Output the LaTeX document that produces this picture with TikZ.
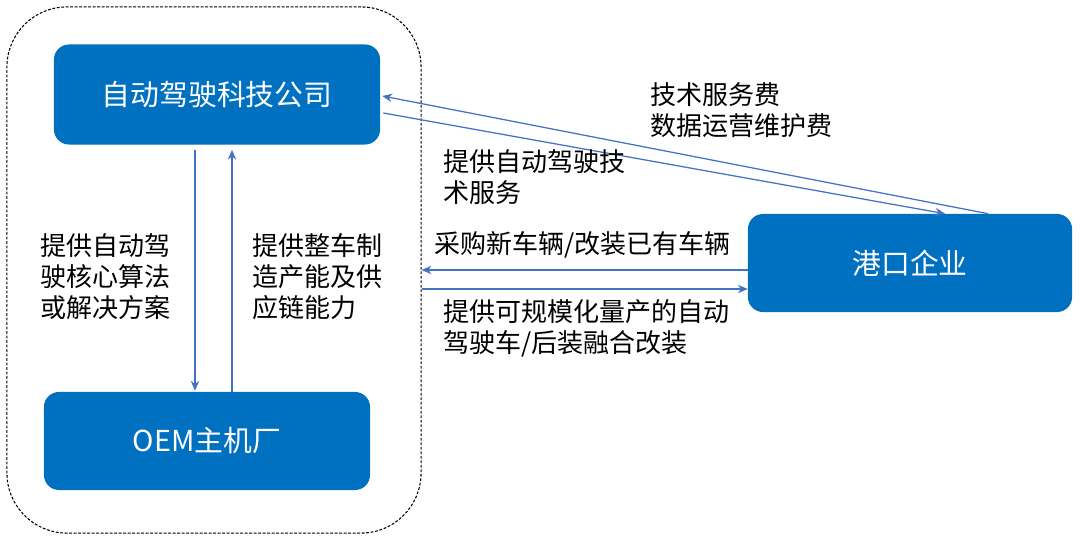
\documentclass[tikz,border=0pt]{standalone}
\usepackage{fontspec}
\setmainfont{Noto Sans CJK SC}
\usetikzlibrary{arrows.meta,calc}
\definecolor{boxblue}{RGB}{0,112,192}
\definecolor{arrowblue}{RGB}{68,114,196}
\tikzset{
  party/.style={fill=boxblue, rounded corners=0.375cm, text=white,
    font=\fontsize{20.5}{24}\selectfont, inner sep=0pt,
    minimum width=8.15cm, minimum height=2.5cm},
  group/.style={draw=black, line width=0.75pt, dash pattern=on 2pt off 1.2pt,
    rounded corners=1.5cm, minimum width=10.35cm, minimum height=13.15cm},
  flow/.style={arrowblue, line width=0.9pt, -{Stealth[length=7pt,width=6pt]}},
  note/.style={font=\fontsize{18.5}{22}\selectfont, align=left, anchor=west, inner sep=0pt},
}
\begin{document}
\begin{tikzpicture}[x=0.025cm, y=-0.025cm]
    \useasboundingbox (0,0) rectangle (1080,544);
    % dashed frame round the two suppliers
    \node[group] (group) at (214,270) {};
    % the three parties
    \node[party] (tech) at (217,94.5) {自动驾驶科技公司};
    \node[party, minimum height=2.45cm] (oem) at (207,441) {OEM主机厂};
    \node[party, minimum width=8.1cm, minimum height=2.45cm] (port) at (910,263) {港口企业};
    % tech <-> oem
    \draw[flow] ($(tech.south)+(-22,5)$) -- ($(oem.north)+(-12,-1)$);
    \draw[flow] ($(oem.north)+(25,0)$) -- ($(tech.south)+(15,5)$);
    \node[note] at (40,277) {提供自动驾\\驶核心算法\\或解决方案};
    \node[note] at (252,277) {提供整车制\\造产能及供\\应链能力};
    % tech <-> port
    \draw[flow] ($(port.north)+(78,0)$) -- ($(tech.east)+(2,1.5)$);
    \draw[flow] ($(tech.east)+(3,18.5)$) -- ($(port.north)+(35,0)$);
    \node[note] at (650,110) {技术服务费\\数据运营维护费};
    \node[note] at (443,177) {提供自动驾驶技\\术服务};
    % port <-> group
    \draw[flow] ($(port.west)+(0,7)$) -- ($(group.east |- port.west)+(0,7)$);
    \draw[flow] ($(group.east |- port.west)+(0,26)$) -- ($(port.west)+(0,26)$);
    \node[note] at (434,245) {采购新车辆/改装已有车辆};
    \node[note] at (443,328) {提供可规模化量产的自动\\驾驶车/后装融合改装};
\end{tikzpicture}
\end{document}
